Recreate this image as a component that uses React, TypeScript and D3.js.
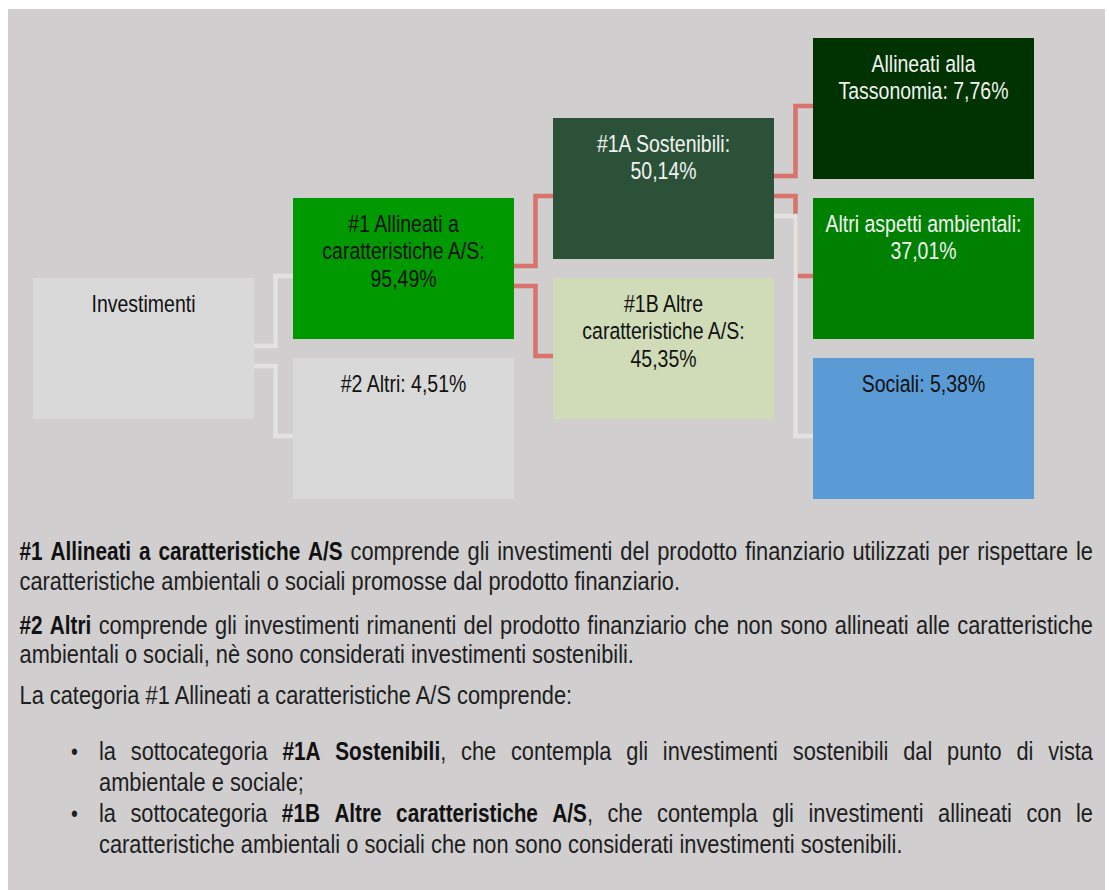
import React, { useMemo } from "react";
import * as d3 from "d3";

// ---------------- DATA ----------------
const nodeNames = [
  "Investimenti",
  "#1 Allineati a caratteristiche A/S",
  "#2 Altri",
  "#1A Sostenibili",
  "#1B Altre caratteristiche A/S",
  "Allineati alla Tassonomia",
  "Altri aspetti ambientali",
  "Sociali",
];
const nodeValues: (number | null)[] = [null, 95.49, 4.51, 50.14, 45.35, 7.76, 37.01, 5.38];
const nodeLabelLines: string[][] = [
  ["Investimenti"],
  ["#1 Allineati a", "caratteristiche A/S:", "{v}"],
  ["#2 Altri: {v}"],
  ["#1A Sostenibili:", "{v}"],
  ["#1B Altre", "caratteristiche A/S:", "{v}"],
  ["Allineati alla", "Tassonomia: {v}"],
  ["Altri aspetti ambientali:", "{v}"],
  ["Sociali: {v}"],
];
// tree level (column) and vertical slot of each node
const nodeLevel = [0, 1, 1, 2, 2, 3, 3, 3];
const nodeSlot = [3, 2, 4, 1, 3, 0, 2, 4];

const linkSource = [0, 0, 1, 1, 3, 3, 3];
const linkTarget = [1, 2, 3, 4, 5, 6, 7];
const linkKind = ["neutral", "neutral", "esg", "esg", "esg", "esg", "neutral"];

type Seg = { t: string; b?: boolean };
const noteLines: Seg[][] = [
  [{ t: "#1 Allineati a caratteristiche A/S", b: true }, { t: " comprende gli investimenti del prodotto finanziario utilizzati per rispettare le" }],
  [{ t: "caratteristiche ambientali o sociali promosse dal prodotto finanziario." }],
  [{ t: "#2 Altri", b: true }, { t: " comprende gli investimenti rimanenti del prodotto finanziario che non sono allineati alle caratteristiche" }],
  [{ t: "ambientali o sociali, nè sono considerati investimenti sostenibili." }],
  [{ t: "La categoria #1 Allineati a caratteristiche A/S comprende:" }],
  [{ t: "la sottocategoria " }, { t: "#1A Sostenibili", b: true }, { t: ", che contempla gli investimenti sostenibili dal punto di vista" }],
  [{ t: "ambientale e sociale;" }],
  [{ t: "la sottocategoria " }, { t: "#1B Altre caratteristiche A/S", b: true }, { t: ", che contempla gli investimenti allineati con le" }],
  [{ t: "caratteristiche ambientali o sociali che non sono considerati investimenti sostenibili." }],
];
const noteJustify = [true, false, true, false, false, true, false, true, false];
const noteBullet = [false, false, false, false, false, true, false, true, false];
const noteIndent = [false, false, false, false, false, true, true, true, true];

// ---------------- STYLE / LAYOUT ----------------
const W = 1109;
const H = 890;
const FONT = "'Liberation Sans', Arial, Helvetica, sans-serif";
const SX_BOX = 0.795;
const SX_NOTE = 0.82;
const SX_BOLD = 0.78;
const BOX_W = 221;
const BOX_H = 141;
const nodeFill = ["#d9d9d9", "#009900", "#d9d9d9", "#2b5238", "#cfdcb7", "#003300", "#008000", "#5b9bd5"];
const nodeText = ["#111", "#111", "#111", "#f2f2f2", "#111", "#f2f2f2", "#f2f2f2", "#111"];
const kindColor: Record<string, string> = { neutral: "#e3e2e2", esg: "#d8746d" };

const xScale = d3.scaleLinear().domain([0, 3]).range([33, 813]);
const yScale = d3.scaleLinear().domain([0, 4]).range([38, 358]);

const fmt = (v: number) => d3.format(".2f")(v).replace(".", ",") + "%";

const noteY = [560, 589.5, 633.5, 663, 704, 759.5, 790.5, 821.5, 852.5];
const NOTE_LEFT = 19.5;
const NOTE_INDENT = 99;
const NOTE_RIGHT = 1093;
const NOTE_SIZE = 26.6;
const BOX_SIZE = 24.5;

function makeMeasure() {
  const c = document.createElement("canvas");
  const ctx = c.getContext("2d") as CanvasRenderingContext2D;
  return (s: string, size: number, bold: boolean) => {
    ctx.font = `${bold ? "bold " : ""}${size}px ${FONT}`;
    return ctx.measureText(s).width * (bold ? SX_BOLD : SX_NOTE);
  };
}

function tokenize(segs: Seg[]): Seg[][] {
  const tokens: Seg[][] = [];
  let cur: Seg[] = [];
  segs.forEach((s) => {
    const parts = s.t.split(" ");
    parts.forEach((p, i) => {
      if (i > 0) {
        if (cur.length) tokens.push(cur);
        cur = [];
      }
      if (p.length) cur.push({ t: p, b: s.b });
    });
  });
  if (cur.length) tokens.push(cur);
  return tokens;
}

type Piece = { x: number; t: string; b: boolean };

export default function App() {
  const measure = useMemo(() => makeMeasure(), []);

  const nodes = nodeNames.map((name, i) => ({
    name,
    x: xScale(nodeLevel[i]),
    y: yScale(nodeSlot[i]),
    lines: nodeLabelLines[i].map((l) => (nodeValues[i] != null ? l.replace("{v}", fmt(nodeValues[i] as number)) : l)),
    fill: nodeFill[i],
    color: nodeText[i],
  }));

  const lineGen = d3.line();
  const links = linkSource.map((s, i) => {
    const siblings = linkSource.map((v, j) => (v === s ? j : -1)).filter((j) => j >= 0);
    const k = siblings.indexOf(i);
    const n = siblings.length;
    const center = BOX_H * 0.553;
    const so = center + (k - (n - 1) / 2) * 20;
    const to = Math.min(center, so + 10);
    const src = nodes[s];
    const tgt = nodes[linkTarget[i]];
    const sx = src.x + BOX_W;
    const mx = sx + 21.5;
    const pts: [number, number][] = [
      [sx, src.y + so],
      [mx, src.y + so],
      [mx, tgt.y + to],
      [tgt.x, tgt.y + to],
    ];
    return { d: lineGen(pts) as string, color: kindColor[linkKind[i]] };
  });

  const notes = noteLines.map((segs, li) => {
    const left = noteIndent[li] ? NOTE_INDENT : NOTE_LEFT;
    const y = noteY[li];
    const pieces: Piece[] = [];
    if (noteJustify[li]) {
      const tokens = tokenize(segs);
      const widths = tokens.map((tk) => tk.reduce((a, s) => a + measure(s.t, NOTE_SIZE, !!s.b), 0));
      const total = widths.reduce((a, b) => a + b, 0);
      const gap = (NOTE_RIGHT - left - total) / (tokens.length - 1);
      let x = left;
      tokens.forEach((tk, i) => {
        let px = x;
        tk.forEach((s) => {
          pieces.push({ x: px, t: s.t, b: !!s.b });
          px += measure(s.t, NOTE_SIZE, !!s.b);
        });
        x += widths[i] + gap;
      });
    } else {
      let px = left;
      segs.forEach((s) => {
        pieces.push({ x: px, t: s.t, b: !!s.b });
        px += measure(s.t, NOTE_SIZE, !!s.b);
      });
    }
    return { y, pieces, bullet: noteBullet[li] };
  });

  return (
    <svg
      width={W}
      height={H}
      style={{ position: "fixed", left: 0, top: 0, display: "block", background: "#ffffff" }}
      fontFamily={FONT}
    >
      <rect x={8} y={9} width={1097} height={H - 9} fill="#d0cece" />

      {links.map((l, i) => (
        <path key={"l" + i} d={l.d} fill="none" stroke={l.color} strokeWidth={4.6} strokeLinejoin="miter" />
      ))}

      {nodes.map((n, i) => (
        <g key={"n" + i}>
          <rect x={n.x} y={n.y} width={BOX_W} height={BOX_H} fill={n.fill} />
          {n.lines.map((line, j) => (
            <text
              key={j}
              transform={`translate(${n.x + BOX_W / 2},${n.y + 33.7 + j * 27.6}) scale(${SX_BOX},1)`}
              textAnchor="middle"
              fontSize={BOX_SIZE}
              fill={n.color}
            >
              {line}
            </text>
          ))}
        </g>
      ))}

      {notes.map((ln, li) => (
        <g key={"t" + li} fill="#1e1e1e" fontSize={NOTE_SIZE}>
          {ln.bullet && (
            <text transform={`translate(71,${ln.y}) scale(${SX_NOTE},1)`} fontSize={NOTE_SIZE * 0.9}>
              •
            </text>
          )}
          {ln.pieces.map((p, k) => (
            <text
              key={k}
              transform={`translate(${p.x},${ln.y}) scale(${p.b ? SX_BOLD : SX_NOTE},1)`}
              fontWeight={p.b ? "bold" : "normal"}
              fill={p.b ? "#111" : "#1e1e1e"}
              style={{ whiteSpace: "pre" }}
            >
              {p.t}
            </text>
          ))}
        </g>
      ))}
    </svg>
  );
}
